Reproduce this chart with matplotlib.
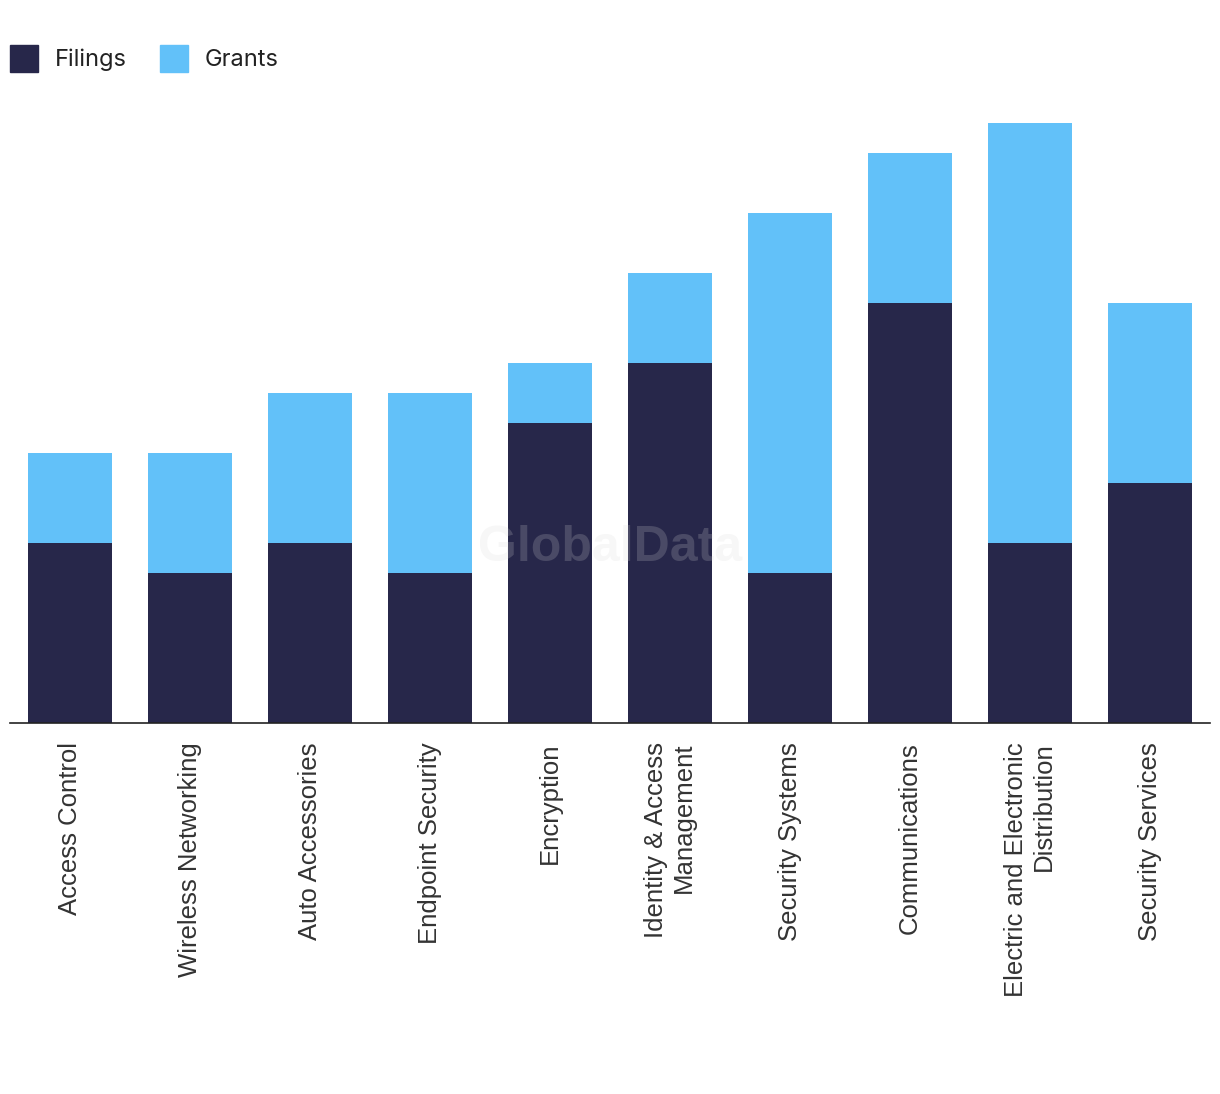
import numpy as np
import matplotlib.pyplot as plt
from matplotlib.patches import Patch

# datos
categorias = ["Access Control", "Wireless Networking", "Auto Accessories",
              "Endpoint Security", "Encryption", "Identity & Access\nManagement",
              "Security Systems", "Communications",
              "Electric and Electronic\nDistribution", "Security Services"]
filings = [6, 5, 6, 5, 10, 12, 5, 14, 6, 8]
grants = [3, 4, 5, 6, 2, 3, 12, 5, 14, 6]

ColorFilings = "#27274a"
ColorGrants = "#62c1f9"

fig = plt.figure(figsize=(12.2, 10.94), dpi=100)
ax = fig.add_axes([10/1220, (1094-723)/1094, 1200/1220, 600/1094])

x = np.arange(len(categorias))
ax.bar(x, filings, width=0.7, color=ColorFilings)
ax.bar(x, grants, width=0.7, bottom=filings, color=ColorGrants)

ax.set_xlim(-0.5, 9.5)
ax.set_ylim(0, 20)
ax.set_yticks([])
for s in ["top", "left", "right"]:
    ax.spines[s].set_visible(False)
ax.spines["bottom"].set_linewidth(1.2)
ax.spines["bottom"].set_color("#222222")

ax.set_xticks(x)
etiquetas = ax.set_xticklabels(categorias, rotation=90, fontsize=18.5,
                               family="Liberation Sans", color="#333333")
for t in etiquetas:
    t.set_multialignment("right")
ax.tick_params(axis="x", length=0, pad=14)

# marca de agua
fig.text(610/1220, 1 - 548/1094, "GlobalData", fontsize=36, fontweight="bold",
         family="Liberation Sans", color="#d7d7d7", alpha=0.2,
         ha="center", va="center")

handles = [Patch(color=ColorFilings, label="Filings"),
           Patch(color=ColorGrants, label="Grants")]
fig.legend(handles=handles, loc="upper left", bbox_to_anchor=(10/1220, 1 - 45/1094),
           ncol=2, frameon=False, prop={"family": "Inter", "size": 17},
           handlelength=1.18, handleheight=1.4, handletextpad=0.72,
           columnspacing=1.4, borderpad=0, borderaxespad=0, labelcolor="#222222")

fig.savefig("out.png", dpi=100)
